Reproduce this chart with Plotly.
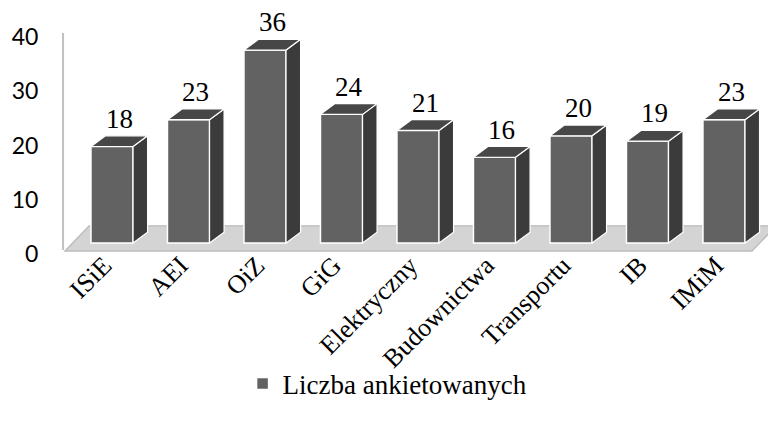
import plotly.graph_objects as go

categories = ["ISiE", "AEI", "OiZ", "GiG", "Elektryczny", "Budownictwa", "Transportu", "IB", "IMiM"]
values = [18, 23, 36, 24, 21, 16, 20, 19, 23]
series_name = "Liczba ankietowanych"
y_ticks = [0, 10, 20, 30, 40]

# page has an 8px body margin, so the figure is sized to fit the window
W, H = 768, 415
L, R, T, B = 52, 0, 2, 163
n = len(categories)
xr = [-0.68, n - 1 + 0.68]
yr = [-3.17, 43.47]
bw = 0.55          # front face width (category units)
dx = 0.19          # depth offset x
dy = 2.0           # depth offset y

front = "#626262"
side = "#3b3b3b"
top = "#474747"
serif = '"Liberation Serif", "Times New Roman", serif'

fig = go.Figure()

# side and top faces (3D effect) computed from data values
for i, v in enumerate(values):
    xl, xrt = i - bw / 2, i + bw / 2
    fig.add_trace(go.Scatter(
        x=[xrt, xrt + dx, xrt + dx, xrt, xrt], y=[0, dy, v + dy, v, 0],
        fill="toself", fillcolor=side, mode="lines",
        line=dict(color="white", width=1.2), showlegend=False, hoverinfo="skip"))
    fig.add_trace(go.Scatter(
        x=[xl, xrt, xrt + dx, xl + dx, xl], y=[v, v, v + dy, v + dy, v],
        fill="toself", fillcolor=top, mode="lines",
        line=dict(color="white", width=1.2), showlegend=False, hoverinfo="skip"))

fig.add_trace(go.Bar(
    x=list(range(n)), y=values, width=bw, name=series_name,
    marker=dict(color=front, line=dict(color="white", width=1.5)),
    showlegend=True))

# invisible trace for label axis
fig.add_trace(go.Scatter(x=[0], y=[0], yaxis="y2", mode="markers",
                         marker=dict(opacity=0), showlegend=False, hoverinfo="skip"))

# floor and back wall line (decoration)
fx0, fx1 = xr[0] + 0.066, n - 1 + 0.366
fyf, fyb = -1.49, 3.17
fig.add_shape(type="path",
              path=f"M {fx0},{fyf} L {fx1},{fyf} L {xr[1]},{fyb} L {-0.30},{fyb} Z",
              xref="x", yref="y", fillcolor="#d4d4d4",
              line=dict(color="#bdbdbd", width=1.5), layer="below")
fig.add_shape(type="line", x0=-0.29, x1=xr[1], y0=fyb, y1=fyb, xref="x", yref="y",
              line=dict(color="#c8c8c8", width=2), layer="below")
fig.add_shape(type="line", x0=xr[0] + 0.04, x1=xr[0] + 0.04, y0=-1.3, y1=39.2,
              xref="x", yref="y", line=dict(color="#c0c0c0", width=2), layer="below")

for i, v in enumerate(values):
    fig.add_annotation(x=i + dx / 2, y=v + dy, text=str(v), showarrow=False,
                       yanchor="bottom", yshift=0,
                       font=dict(family=serif, size=27, color="black"))

fig.update_layout(
    width=W, height=H, margin=dict(l=L, r=R, t=T, b=B, autoexpand=False),
    paper_bgcolor="white", plot_bgcolor="white",
    font=dict(family=serif, color="black"),
    xaxis=dict(range=xr, tickmode="array", tickvals=list(range(n)), ticktext=categories,
               tickangle=-45, showgrid=False, zeroline=False, showline=False,
               automargin=False, ticks="", ticklabelstandoff=-16,
               ticklabelshift=-8,
               tickfont=dict(family=serif, size=26, color="black")),
    yaxis=dict(range=yr, showticklabels=False, showgrid=False, zeroline=False,
               showline=False, ticks="", automargin=False),
    yaxis2=dict(range=[-1.106, 44.98], overlaying="y", side="left", tickvals=y_ticks,
                showgrid=False, zeroline=False, showline=False, automargin=False,
                ticks="outside", ticklen=16, tickcolor="rgba(0,0,0,0)",
                tickfont=dict(family="Lato", size=23, color="black")),
    legend=dict(x=0.255, y=-0.496, xanchor="left", yanchor="middle",
                font=dict(family=serif, size=27, color="black"),
                bgcolor="rgba(0,0,0,0)"),
    bargap=0.45,
)

fig.write_html("out.html")
